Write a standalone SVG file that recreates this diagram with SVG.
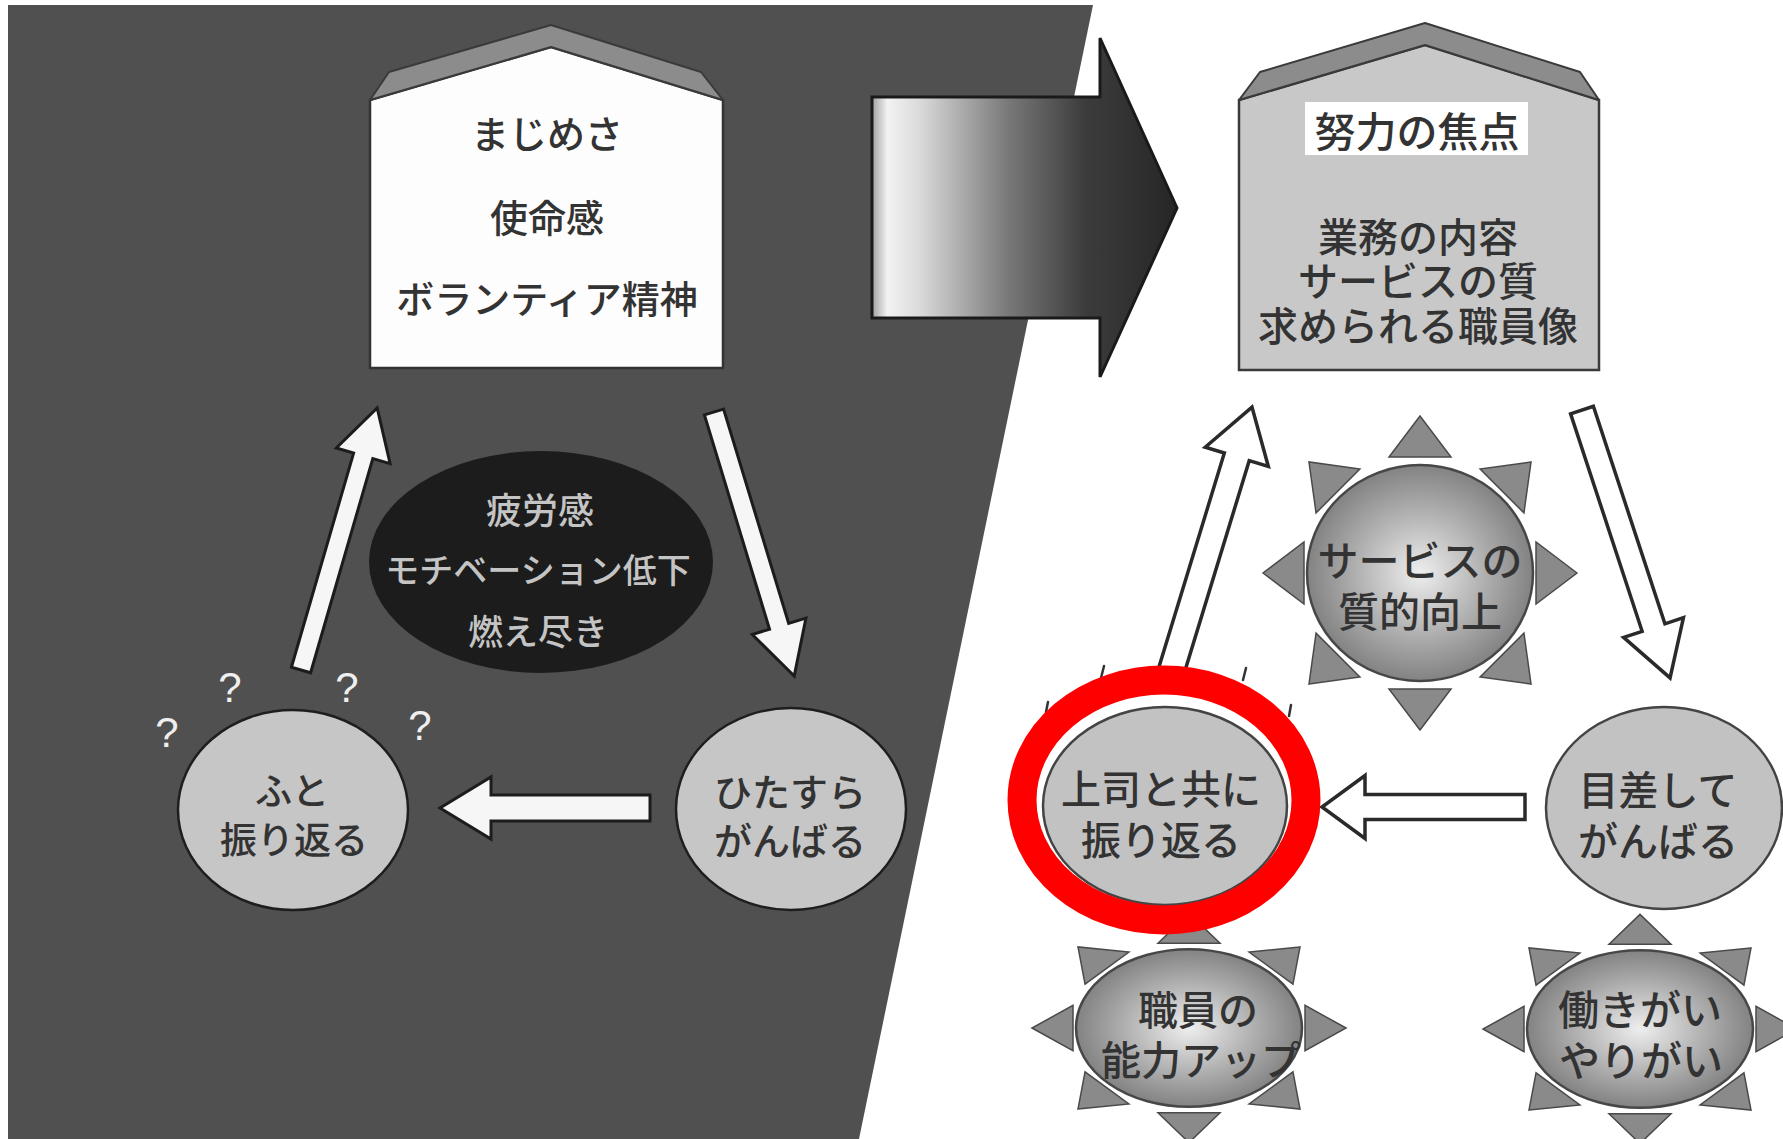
<svg xmlns="http://www.w3.org/2000/svg" width="1783" height="1139" viewBox="0 0 1783 1139">
<defs>
<style>
.jp{font-family:"Noto Sans CJK JP","Noto Sans CJK SC",sans-serif;text-anchor:middle;dominant-baseline:central;font-weight:500}
.dk{fill:#333333}
.lt{fill:#c4c4c4}
.q{font-family:"Liberation Sans",Arial,sans-serif;font-size:42px;fill:#efefef;text-anchor:middle}
.arwL{fill:#f6f6f6;stroke:#1c1c1c;stroke-width:3;stroke-linejoin:miter}
.arwR{fill:#ffffff;stroke:#2a2a2a;stroke-width:3.5;stroke-linejoin:miter}
.circL{fill:#c6c6c6;stroke:#1e1e1e;stroke-width:2.5}
.circR{fill:#c2c2c2;stroke:#444;stroke-width:2.5}
.roof{fill:#8c8c8c;stroke:#3a3a3a;stroke-width:2;stroke-linejoin:round}
.tri{fill:#8a8a8a;stroke:#4a4a4a;stroke-width:1.5;vector-effect:non-scaling-stroke}
.sunE{fill:url(#sunGrad);stroke:#474747;stroke-width:2.5;vector-effect:non-scaling-stroke}
</style>
<linearGradient id="bigGrad" gradientUnits="userSpaceOnUse" x1="872" y1="0" x2="1177" y2="0">
<stop offset="0" stop-color="#a0a0a0"/>
<stop offset="0.05" stop-color="#f2f2f2"/>
<stop offset="0.15" stop-color="#dcdcdc"/>
<stop offset="0.45" stop-color="#777777"/>
<stop offset="0.7" stop-color="#3c3c3c"/>
<stop offset="1" stop-color="#262626"/>
</linearGradient>
<radialGradient id="sunGrad" cx="0.5" cy="0.5" r="0.55">
<stop offset="0" stop-color="#eeeeee"/>
<stop offset="0.55" stop-color="#acacac"/>
<stop offset="1" stop-color="#787878"/>
</radialGradient>
<polygon id="ray" class="tri" points="0,-157 -31,-116 31,-116"/>
<g id="sun">
<use href="#ray"/>
<use href="#ray" transform="rotate(45)"/>
<use href="#ray" transform="rotate(90)"/>
<use href="#ray" transform="rotate(135)"/>
<use href="#ray" transform="rotate(180)"/>
<use href="#ray" transform="rotate(225)"/>
<use href="#ray" transform="rotate(270)"/>
<use href="#ray" transform="rotate(315)"/>
<ellipse class="sunE" cx="0" cy="0" rx="113" ry="108"/>
</g>
</defs>

<rect x="0" y="0" width="1783" height="1139" fill="#ffffff"/>
<polygon id="darkPanel" points="8,5 1093,5 859,1139 8,1139" fill="#505050"/>

<g id="bigArrow">
<polygon points="872,97 1100,97 1100,38 1177,208 1100,377 1100,318 872,318" fill="url(#bigGrad)" stroke="#1a1a1a" stroke-width="3" stroke-linejoin="miter"/>
</g>

<g id="connectors">
<polygon class="arwL" transform="translate(301,670) rotate(-73.8)" points="0,-10 223,-10 223,-28 273,0 223,28 223,10 0,10"/>
<polygon class="arwL" transform="translate(714,412) rotate(73.1)" points="0,-10 224,-10 224,-28 276,0 224,28 224,10 0,10"/>
<polygon class="arwL" transform="translate(650,808) rotate(180)" points="0,-13 159,-13 159,-31 210,0 159,31 159,13 0,13"/>
<polygon class="arwR" transform="translate(1171,672) rotate(-73)" points="0,-13 225,-13 225,-33 277,0 225,33 225,13 0,13"/>
<polygon class="arwR" transform="translate(1582,410) rotate(71.8)" points="0,-12 229,-12 229,-31.5 282,0 229,31.5 229,12 0,12"/>
<polygon class="arwR" transform="translate(1525,807) rotate(180)" points="0,-12.5 160,-12.5 160,-31.5 203,0 160,31.5 160,12.5 0,12.5"/>
</g>

<g id="houseLeft">
<polygon points="370,100 551,47 723,100 723,368 370,368" fill="#fdfdfd" stroke="#333" stroke-width="2.5" stroke-linejoin="miter"/>
<polygon class="roof" points="370,100 389,72 551,25 701,72 723,100 551,47"/>
<text class="jp dk" x="547" y="131" font-size="38">まじめさ</text>
<text class="jp dk" x="547" y="215" font-size="38">使命感</text>
<text class="jp dk" x="547" y="296" font-size="38">ボランティア精神</text>
</g>

<g id="houseRight">
<polygon points="1239,100 1425,45 1599,100 1599,370 1239,370" fill="#c8c8c8" stroke="#3a3a3a" stroke-width="2.5" stroke-linejoin="miter"/>
<polygon class="roof" points="1239,100 1260,72 1425,23 1580,72 1599,100 1425,45"/>
<rect x="1305" y="102" width="223" height="53" fill="#ffffff"/>
<text class="jp dk" x="1417" y="129" font-size="41">努力の焦点</text>
<text class="jp dk" font-size="40"><tspan x="1418" y="235">業務の内容</tspan><tspan x="1418" y="279">サービスの質</tspan><tspan x="1418" y="324">求められる職員像</tspan></text>
</g>

<g id="fatigue">
<ellipse cx="541" cy="562" rx="172" ry="111" fill="#1c1c1c"/>
<text class="jp lt" x="540" y="508" font-size="36">疲労感</text>
<text class="jp lt" x="538" y="568" font-size="34">モチベーション低下</text>
<text class="jp lt" x="538" y="629" font-size="35">燃え尽き</text>
</g>

<g id="futo">
<ellipse class="circL" cx="293" cy="810" rx="115" ry="100"/>
<text class="jp dk" font-size="37"><tspan x="292" y="789">ふと</tspan><tspan x="294" y="838">振り返る</tspan></text>
</g>

<g id="hitasura">
<ellipse class="circL" cx="791" cy="809" rx="115" ry="101"/>
<text class="jp dk" font-size="38"><tspan x="790" y="789">ひたすら</tspan><tspan x="790" y="838">がんばる</tspan></text>
</g>

<g id="questions">
<text class="q" x="167" y="747">?</text>
<text class="q" x="230" y="702">?</text>
<text class="q" x="347" y="702">?</text>
<text class="q" x="420" y="740">?</text>
</g>

<g id="sunService">
<use href="#sun" transform="translate(1420,573)"/>
<text class="jp dk" font-size="41"><tspan x="1420" y="558">サービスの</tspan><tspan x="1420" y="609">質的向上</tspan></text>
</g>

<g id="sunStaff">
<use href="#sun" transform="translate(1189,1028) scale(1,0.73)"/>
<text class="jp dk" font-size="40"><tspan x="1198" y="1008">職員の</tspan><tspan x="1201" y="1058">能力アップ</tspan></text>
</g>

<g id="sunWorth">
<use href="#sun" transform="translate(1640,1029) scale(1,0.73)"/>
<text class="jp dk" font-size="41"><tspan x="1640" y="1007">働きがい</tspan><tspan x="1641" y="1058">やりがい</tspan></text>
</g>

<g id="mezashite">
<ellipse class="circR" cx="1664" cy="808" rx="118" ry="101"/>
<text class="jp dk" font-size="40"><tspan x="1658" y="788">目差して</tspan><tspan x="1658" y="839">がんばる</tspan></text>
</g>

<g id="joshi">
<g stroke="#333" stroke-width="2.5" stroke-linecap="round">
<line x1="1104" y1="666" x2="1101" y2="678"/>
<line x1="1246" y1="668" x2="1243" y2="680"/>
<line x1="1048" y1="702" x2="1046" y2="712"/>
<line x1="1291" y1="705" x2="1289" y2="716"/>
</g>
<ellipse class="circR" cx="1165" cy="806" rx="122" ry="99"/>
<text class="jp dk" font-size="40"><tspan x="1161" y="787">上司と共に</tspan><tspan x="1161" y="838">振り返る</tspan></text>
</g>

<g id="highlight">
<ellipse cx="1164" cy="800" rx="142" ry="120" fill="none" stroke="#ff0000" stroke-width="29"/>
</g>
</svg>
